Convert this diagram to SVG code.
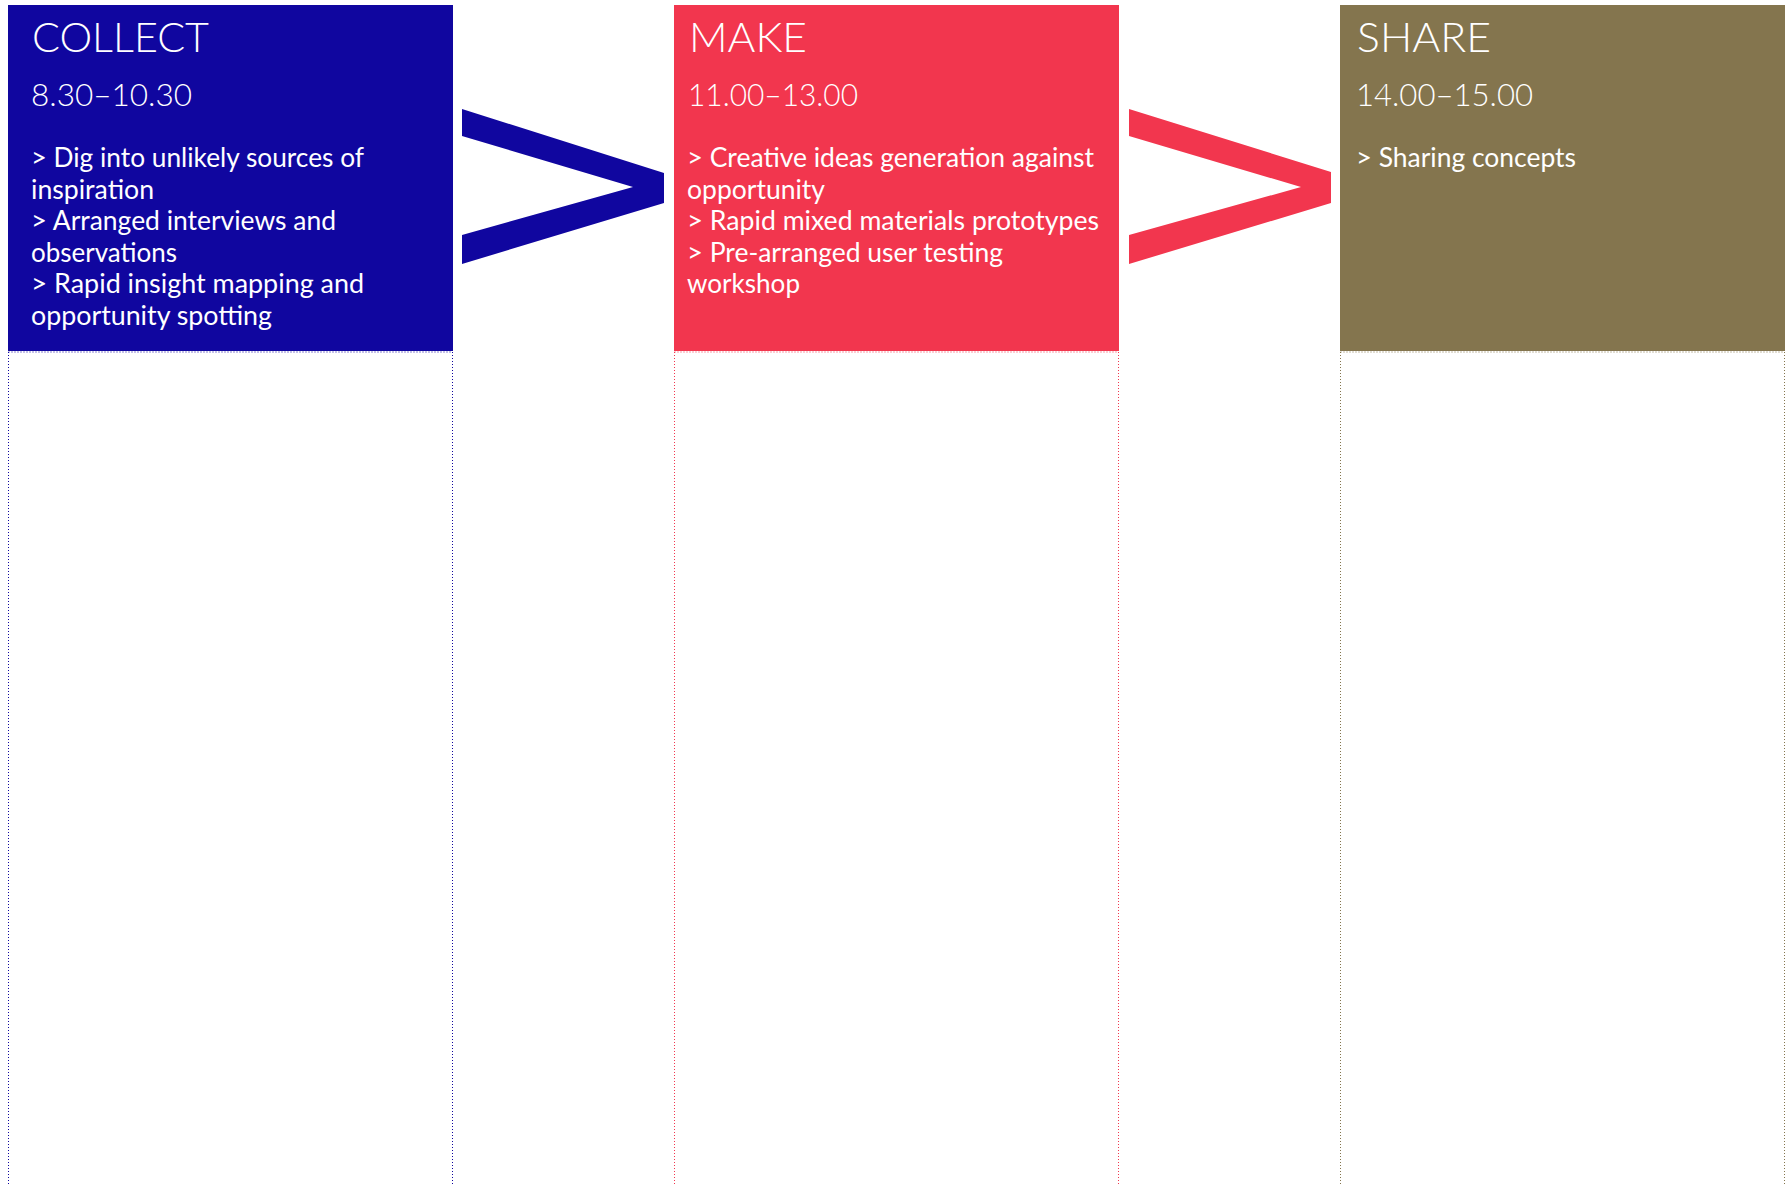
<svg xmlns="http://www.w3.org/2000/svg" width="1788" height="1184" viewBox="0 0 1788 1184">
<style>
text{fill:#fff;font-family:Lato,"Open Sans","Liberation Sans",sans-serif;font-weight:400}
.t{font-size:41px;font-weight:300}
.tm{font-size:32px;font-weight:300}
.b{font-size:26px}
.g{font-size:27px}
.dot{fill:none;stroke-width:1;stroke-dasharray:1 2}
</style>
<rect width="1788" height="1184" fill="#fff"/>
<g id="connectors">
<polygon points="462,109 664,173 664,203 462,264 462,235 633,187 462,136" fill="#10069F"/>
<polygon points="1129,109 1331,172 1331,203 1129,264 1129,235 1301,187 1129,136" fill="#F2364E"/>
</g>
<g id="collect">
<rect x="8" y="5" width="445" height="346" fill="#10069F"/>
<path class="dot" stroke="#10069F" d="M8.5,352H452.5M8.5,352V1184M452.5,352V1184"/>
<text class="t" x="32" y="52" textLength="177" lengthAdjust="spacingAndGlyphs">COLLECT</text>
<text class="tm" x="31" y="106" textLength="161" lengthAdjust="spacingAndGlyphs">8.30–10.30</text>
<text class="b" x="31" y="167" textLength="333" lengthAdjust="spacingAndGlyphs"><tspan class="g">&gt;</tspan> Dig into unlikely sources of</text>
<text class="b" x="31" y="199" textLength="123" lengthAdjust="spacingAndGlyphs">inspiration</text>
<text class="b" x="31" y="230" textLength="305" lengthAdjust="spacingAndGlyphs"><tspan class="g">&gt;</tspan> Arranged interviews and</text>
<text class="b" x="31" y="262" textLength="146" lengthAdjust="spacingAndGlyphs">observations</text>
<text class="b" x="31" y="293" textLength="333" lengthAdjust="spacingAndGlyphs"><tspan class="g">&gt;</tspan> Rapid insight mapping and</text>
<text class="b" x="31" y="325" textLength="241" lengthAdjust="spacingAndGlyphs">opportunity spotting</text>
</g>
<g id="make">
<rect x="674" y="5" width="445" height="346" fill="#F2364E"/>
<path class="dot" stroke="#F2364E" d="M674.5,352H1118.5M674.5,352V1184M1118.5,352V1184"/>
<text class="t" x="689" y="52" textLength="118" lengthAdjust="spacingAndGlyphs">MAKE</text>
<text class="tm" x="688" y="106" textLength="170" lengthAdjust="spacingAndGlyphs">11.00–13.00</text>
<text class="b" x="687" y="167" textLength="407" lengthAdjust="spacingAndGlyphs"><tspan class="g">&gt;</tspan> Creative ideas generation against</text>
<text class="b" x="687" y="199" textLength="138" lengthAdjust="spacingAndGlyphs">opportunity</text>
<text class="b" x="687" y="230" textLength="412" lengthAdjust="spacingAndGlyphs"><tspan class="g">&gt;</tspan> Rapid mixed materials prototypes</text>
<text class="b" x="687" y="262" textLength="316" lengthAdjust="spacingAndGlyphs"><tspan class="g">&gt;</tspan> Pre-arranged user testing</text>
<text class="b" x="687" y="293" textLength="113" lengthAdjust="spacingAndGlyphs">workshop</text>
</g>
<g id="share">
<rect x="1340" y="5" width="445" height="346" fill="#84754E"/>
<path class="dot" stroke="#84754E" d="M1340.5,352H1784.5M1340.5,352V1184M1784.5,352V1184"/>
<text class="t" x="1357" y="52" textLength="134" lengthAdjust="spacingAndGlyphs">SHARE</text>
<text class="tm" x="1356" y="106" textLength="177" lengthAdjust="spacingAndGlyphs">14.00–15.00</text>
<text class="b" x="1356" y="167" textLength="220" lengthAdjust="spacingAndGlyphs"><tspan class="g">&gt;</tspan> Sharing concepts</text>
</g>
</svg>
